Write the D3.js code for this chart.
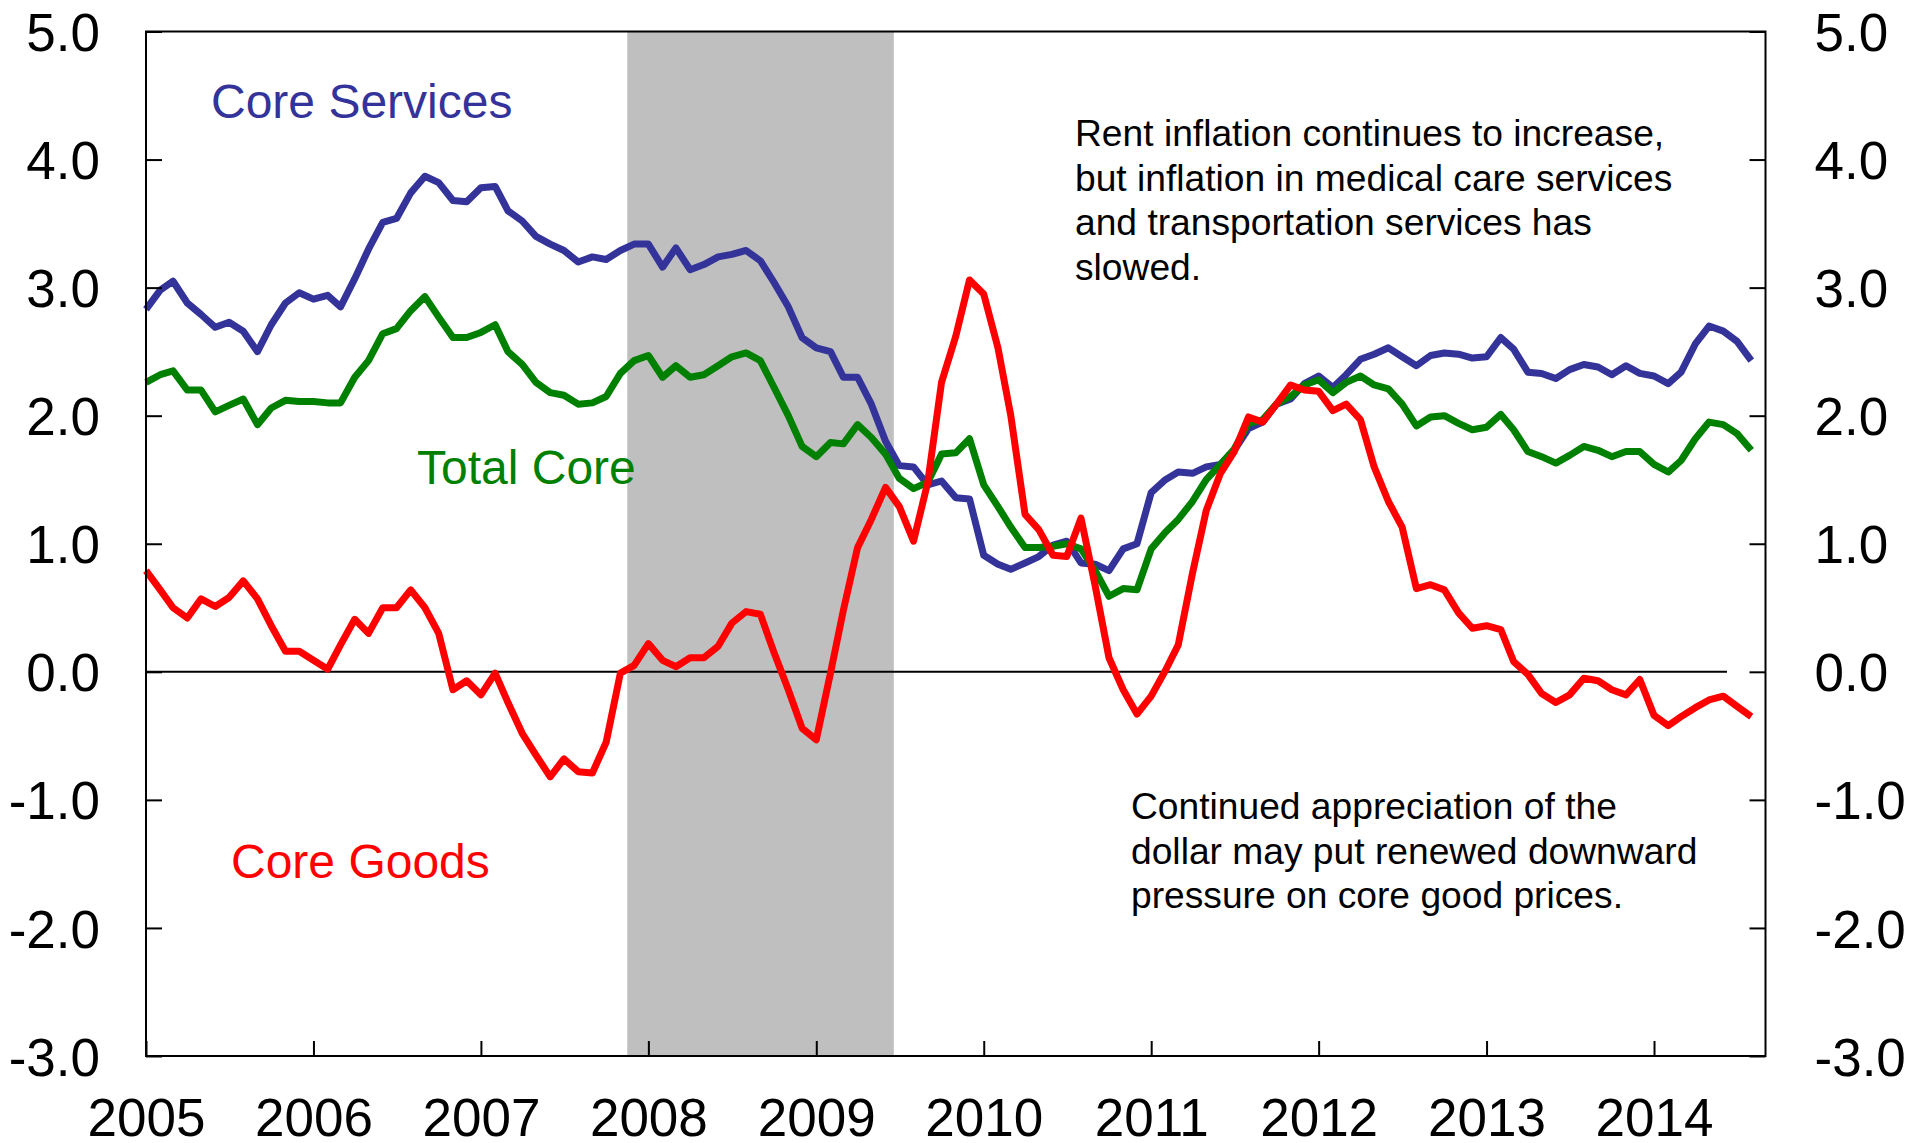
<!DOCTYPE html>
<html>
<head>
<meta charset="utf-8">
<script src="https://cdn.jsdelivr.net/npm/d3@7"></script>
<style>
  html, body { margin: 0; padding: 0; background: #ffffff; }
  svg { display: block; font-family: "Liberation Sans", Arial, Helvetica, sans-serif; }
</style>
</head>
<body>
<svg id="chart" width="1909" height="1143"></svg>
<script>
// ---------------- DATA ----------------
const startMonth = "2005-01";   // first monthly observation
const domainEnd = "2014-09";    // right edge of the time axis

// Core Services (blue), monthly, Jan 2005 - Aug 2014
const coreServices = [
  2.83, 2.98, 3.05, 2.88, 2.79, 2.69, 2.73, 2.66, 2.50, 2.71, 2.88, 2.96,
  2.91, 2.94, 2.85, 3.07, 3.30, 3.51, 3.54, 3.74, 3.87, 3.82, 3.68, 3.67,
  3.78, 3.79, 3.60, 3.52, 3.40, 3.34, 3.29, 3.20, 3.24, 3.22, 3.29, 3.34,
  3.34, 3.16, 3.31, 3.14, 3.18, 3.24, 3.26, 3.29, 3.21, 3.04, 2.85, 2.61,
  2.53, 2.50, 2.30, 2.30, 2.09, 1.80, 1.61, 1.60, 1.46, 1.49, 1.36, 1.35,
  0.91, 0.84, 0.80, 0.85, 0.90, 0.99, 1.02, 0.85, 0.84, 0.79, 0.96, 1.00,
  1.40, 1.50, 1.56, 1.55, 1.60, 1.62, 1.73, 1.90, 1.95, 2.09, 2.13, 2.25,
  2.31, 2.22, 2.32, 2.44, 2.48, 2.53, 2.46, 2.39, 2.47, 2.49, 2.48, 2.45,
  2.46, 2.61, 2.52, 2.34, 2.33, 2.29, 2.36, 2.40, 2.38, 2.32, 2.39, 2.33,
  2.31, 2.25, 2.34, 2.56, 2.70, 2.66, 2.58, 2.43
];

// Total Core (green)
const totalCore = [
  2.26, 2.32, 2.35, 2.20, 2.20, 2.03, 2.08, 2.13, 1.93, 2.06, 2.12, 2.11,
  2.11, 2.10, 2.10, 2.30, 2.43, 2.64, 2.68, 2.82, 2.93, 2.77, 2.61, 2.61,
  2.65, 2.71, 2.50, 2.40, 2.26, 2.18, 2.16, 2.09, 2.10, 2.15, 2.33, 2.43,
  2.47, 2.30, 2.39, 2.30, 2.32, 2.39, 2.46, 2.49, 2.43, 2.22, 2.00, 1.76,
  1.68, 1.79, 1.78, 1.93, 1.83, 1.70, 1.51, 1.43, 1.48, 1.70, 1.71, 1.82,
  1.46, 1.29, 1.13, 0.97, 0.97, 0.98, 1.00, 0.96, 0.79, 0.59, 0.65, 0.64,
  0.96, 1.09, 1.19, 1.33, 1.50, 1.62, 1.74, 1.94, 1.97, 2.09, 2.15, 2.24,
  2.28, 2.18, 2.26, 2.31, 2.24, 2.21, 2.09, 1.92, 1.99, 2.00, 1.94, 1.89,
  1.91, 2.01, 1.89, 1.72, 1.68, 1.63, 1.69, 1.76, 1.73, 1.68, 1.72, 1.72,
  1.62, 1.56, 1.65, 1.82, 1.95, 1.93, 1.86, 1.73
];

// Core Goods (red)
const coreGoods = [
  0.79, 0.64, 0.50, 0.42, 0.57, 0.51, 0.58, 0.71, 0.57, 0.36, 0.16, 0.16,
  0.09, 0.02, 0.21, 0.41, 0.30, 0.50, 0.50, 0.64, 0.50, 0.30, -0.14, -0.07,
  -0.18, -0.01, -0.24, -0.48, -0.65, -0.82, -0.68, -0.78, -0.79, -0.55, -0.01, 0.05,
  0.22, 0.09, 0.04, 0.11, 0.11, 0.20, 0.38, 0.47, 0.45, 0.15, -0.14, -0.44,
  -0.53, -0.01, 0.48, 0.97, 1.19, 1.44, 1.29, 1.02, 1.48, 2.26, 2.62, 3.06,
  2.95, 2.53, 2.00, 1.23, 1.11, 0.91, 0.90, 1.20, 0.67, 0.11, -0.14, -0.33,
  -0.19, 0.01, 0.21, 0.77, 1.26, 1.55, 1.72, 1.99, 1.95, 2.09, 2.24, 2.20,
  2.19, 2.04, 2.09, 1.97, 1.60, 1.33, 1.13, 0.65, 0.68, 0.64, 0.46, 0.34,
  0.36, 0.33, 0.08, -0.02, -0.17, -0.24, -0.18, -0.05, -0.07, -0.14, -0.18, -0.06,
  -0.34, -0.42, -0.35, -0.28, -0.22, -0.19, -0.27, -0.35
];

const seriesNames = ["Core Services", "Total Core", "Core Goods"];
const seriesColors = ["#333399", "#008000", "#FF0000"];

const yTickValues = [5, 4, 3, 2, 1, 0, -1, -2, -3];
const yTickLabels = ["5.0", "4.0", "3.0", "2.0", "1.0", "0.0", "-1.0", "-2.0", "-3.0"];
const xTickYears = ["2005", "2006", "2007", "2008", "2009", "2010", "2011", "2012", "2013", "2014"];

const recessionMonths = ["2007-12", "2009-06"];
const zeroLineEnd = "2014-06-09";

const noteServices = [
  "Rent inflation continues to increase,",
  "but inflation in medical care services",
  "and transportation services has",
  "slowed."
];
const noteGoods = [
  "Continued appreciation of the",
  "dollar may put renewed downward",
  "pressure on core good prices."
];

// ---------------- CHART ----------------
const parseMonth = d3.timeParse("%Y-%m");
const parseDay = d3.timeParse("%Y-%m-%d");
const parseYear = d3.timeParse("%Y");

const plot = { left: 146, right: 1765.5, top: 31.5, bottom: 1056 };

const x = d3.scaleTime()
  .domain([parseMonth(startMonth), parseMonth(domainEnd)])
  .range([plot.left, plot.right]);
const y = d3.scaleLinear()
  .domain([-3, 5])
  .range([plot.bottom, plot.top]);

const t0 = parseMonth(startMonth);
const monthDates = coreServices.map((_, i) => d3.timeMonth.offset(t0, i));

const svg = d3.select("#chart");

// recession shading (half-month padding around the recession months)
const recStart = d3.timeDay.offset(parseMonth(recessionMonths[0]), -15);
const recEnd = d3.timeDay.offset(parseMonth(recessionMonths[1]), 18);
svg.append("rect")
  .attr("x", x(recStart))
  .attr("y", y(5))
  .attr("width", x(recEnd) - x(recStart))
  .attr("height", y(-3) - y(5))
  .attr("fill", "#BFBFBF");

// zero line
svg.append("line")
  .attr("x1", x(t0)).attr("x2", x(parseDay(zeroLineEnd)))
  .attr("y1", y(0)).attr("y2", y(0))
  .attr("stroke", "#000").attr("stroke-width", 2);

// series lines
const line = d3.line()
  .x((d, i) => x(monthDates[i]))
  .y(d => y(d));

const seriesData = [coreServices, totalCore, coreGoods];
seriesData.forEach((vals, k) => {
  svg.append("path")
    .datum(vals)
    .attr("d", line)
    .attr("fill", "none")
    .attr("stroke", seriesColors[k])
    .attr("stroke-width", 7)
    .attr("stroke-linejoin", "round")
    .attr("stroke-linecap", "butt");
});

// frame
svg.append("rect")
  .attr("x", plot.left).attr("y", plot.top)
  .attr("width", plot.right - plot.left)
  .attr("height", plot.bottom - plot.top)
  .attr("fill", "none")
  .attr("stroke", "#000")
  .attr("stroke-width", 2);

// axes
const tickFont = 53;

const leftAxis = d3.axisLeft(y)
  .tickValues(yTickValues)
  .tickFormat((d, i) => yTickLabels[i])
  .tickSizeInner(-16).tickSizeOuter(0).tickPadding(46);
const gL = svg.append("g").attr("transform", `translate(${plot.left},0)`).call(leftAxis);

const rightAxis = d3.axisRight(y)
  .tickValues(yTickValues)
  .tickFormat((d, i) => yTickLabels[i])
  .tickSizeInner(-16).tickSizeOuter(0).tickPadding(49);
const gR = svg.append("g").attr("transform", `translate(${plot.right},0)`).call(rightAxis);

const yearDates = xTickYears.map(s => parseYear(s));
const bottomAxis = d3.axisBottom(x)
  .tickValues(yearDates)
  .tickFormat((d, i) => xTickYears[i])
  .tickSizeInner(-15).tickSizeOuter(0).tickPadding(0);
const gB = svg.append("g").attr("transform", `translate(0,${plot.bottom})`).call(bottomAxis);

[gL, gR, gB].forEach(g => {
  g.select(".domain").remove();
  g.selectAll(".tick line").attr("stroke", "#000").attr("stroke-width", 2);
  g.selectAll(".tick text")
    .attr("fill", "#000")
    .style("font-family", '"Liberation Sans", Arial, Helvetica, sans-serif')
    .style("font-size", tickFont + "px");
});
gL.selectAll(".tick text").attr("dy", "0.36em");
gR.selectAll(".tick text").attr("dy", "0.36em");
gB.selectAll(".tick text").attr("y", 80).attr("dy", 0);

// series labels
const labelFont = 48;
const seriesLabelPos = [
  { x: 211, y: 118 },
  { x: 417, y: 484 },
  { x: 231, y: 878 }
];
seriesNames.forEach((name, k) => {
  svg.append("text")
    .attr("x", seriesLabelPos[k].x)
    .attr("y", seriesLabelPos[k].y)
    .attr("fill", seriesColors[k])
    .style("font-size", labelFont + "px")
    .text(name);
});

// annotations
function note(lines, x0, y0) {
  const t = svg.append("text")
    .attr("x", x0).attr("y", y0)
    .attr("fill", "#000")
    .style("font-size", "37.2px");
  lines.forEach((s, i) => {
    t.append("tspan").attr("x", x0).attr("y", y0 + i * 44.6).text(s);
  });
}
note(noteServices, 1075, 146);
note(noteGoods, 1131, 819);
</script>
</body>
</html>
